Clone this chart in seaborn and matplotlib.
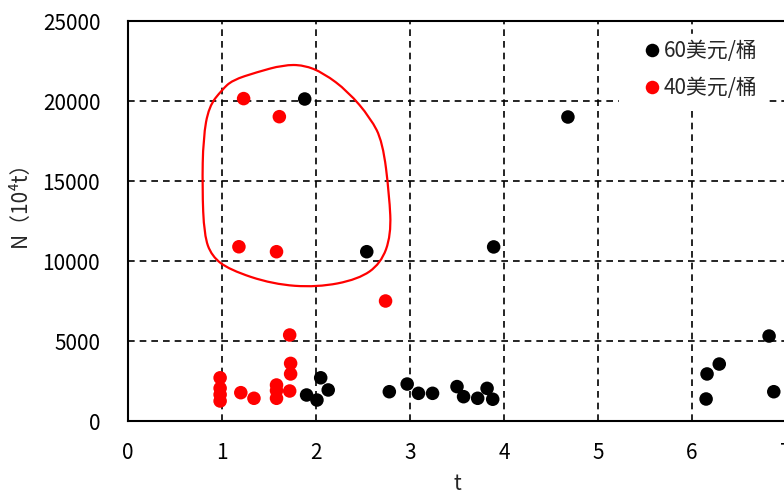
import numpy as np
import pandas as pd
import matplotlib
matplotlib.use("Agg")
import matplotlib.pyplot as plt
from matplotlib.path import Path
from matplotlib.patches import PathPatch
import seaborn as sns

# data
x_60 = [1.88, 4.68, 2.54, 3.89, 1.90, 2.01, 2.05, 2.13, 2.78, 2.97, 3.09,
        3.24, 3.50, 3.57, 3.72, 3.82, 3.88, 6.16, 6.29, 6.15, 6.82, 6.87]
y_60 = [20125, 19000, 10580, 10880, 1625, 1310, 2700, 1940, 1830, 2310, 1730,
        1730, 2150, 1520, 1420, 2040, 1360, 2940, 3560, 1375, 5310, 1830]

x_40 = [1.23, 1.61, 1.18, 1.58, 2.74, 1.72, 1.73, 1.73, 1.72, 0.98, 0.98,
        0.98, 0.98, 1.20, 1.34, 1.58, 1.58, 1.58]
y_40 = [20150, 19020, 10890, 10580, 7500, 5375, 3600, 2940, 1875, 2700, 2050,
        1650, 1250, 1770, 1420, 2250, 1900, 1420]

labels = ["60美元/桶", "40美元/桶"]
colors = ["black", "red"]

# hand-drawn outline around the high-N group (control points)
loop_x = [1.65, 1.87, 2.08, 2.34, 2.58, 2.71, 2.78, 2.80, 2.69, 2.45, 2.01,
          1.54, 1.08, 0.89, 0.81, 0.79, 0.80, 0.86, 1.00, 1.11, 1.37]
loop_y = [22250, 22250, 21750, 20600, 18940, 17440, 14120, 11620, 9840, 8850, 8350,
          8550, 9450, 10300, 11620, 14560, 17690, 19660, 20700, 21300, 21800]

df = pd.DataFrame({
    "t": x_60 + x_40,
    "N": y_60 + y_40,
    "price": [labels[0]] * len(x_60) + [labels[1]] * len(x_40),
})

sns.set_style("white")
plt.rcParams["font.family"] = ["Noto Sans CJK SC", "DejaVu Sans"]

fig = plt.figure(figsize=(7.84, 4.95), dpi=100)
ax = fig.add_axes([128 / 784, 1 - 421 / 495, 658 / 784, 400 / 495])

sns.scatterplot(data=df, x="t", y="N", hue="price", hue_order=labels,
                palette=dict(zip(labels, colors)), s=95, linewidth=0,
                ax=ax, zorder=3)

# closed smooth outline
pts = np.column_stack([loop_x, loop_y])
n = len(pts)
mids = (pts + np.roll(pts, -1, axis=0)) / 2
verts = [mids[-1]]
codes = [Path.MOVETO]
for i in range(n):
    verts += [pts[i], mids[i]]
    codes += [Path.CURVE3, Path.CURVE3]
ax.add_patch(PathPatch(Path(verts, codes), fill=False, edgecolor="red",
                       lw=1.6, zorder=2))

ax.set_xlim(0, 7)
ax.set_ylim(0, 25000)
ax.set_xticks(range(0, 8))
ax.set_yticks(range(0, 25001, 5000))
ax.grid(True, color="black", linestyle=(0, (4, 3)), linewidth=1.2)
ax.tick_params(axis="both", length=0, labelsize=15, colors="black")
ax.tick_params(axis="y", pad=20)
ax.tick_params(axis="x", pad=15)
for sp in ax.spines.values():
    sp.set_color("black")
    sp.set_linewidth(1.5)

ax.set_xlabel("t", fontsize=15)
ax.xaxis.set_label_coords(0.5, -0.13)
ax.set_ylabel("N（10⁴t）", fontsize=15, va="center")
ax.yaxis.set_label_coords(-0.165, 0.555)

handles, labs = ax.get_legend_handles_labels()
leg = ax.legend(handles, labs, loc="upper left",
                bbox_to_anchor=(619 / 784, 1 - 34 / 495),
                bbox_transform=fig.transFigure, fontsize=15,
                frameon=True, fancybox=False, framealpha=1,
                facecolor="white", edgecolor="white",
                borderpad=0.3, handlelength=2.6, handletextpad=-0.75,
                labelspacing=0.7, borderaxespad=0)
leg.set_zorder(5)

fig.savefig("out.png", dpi=100)
